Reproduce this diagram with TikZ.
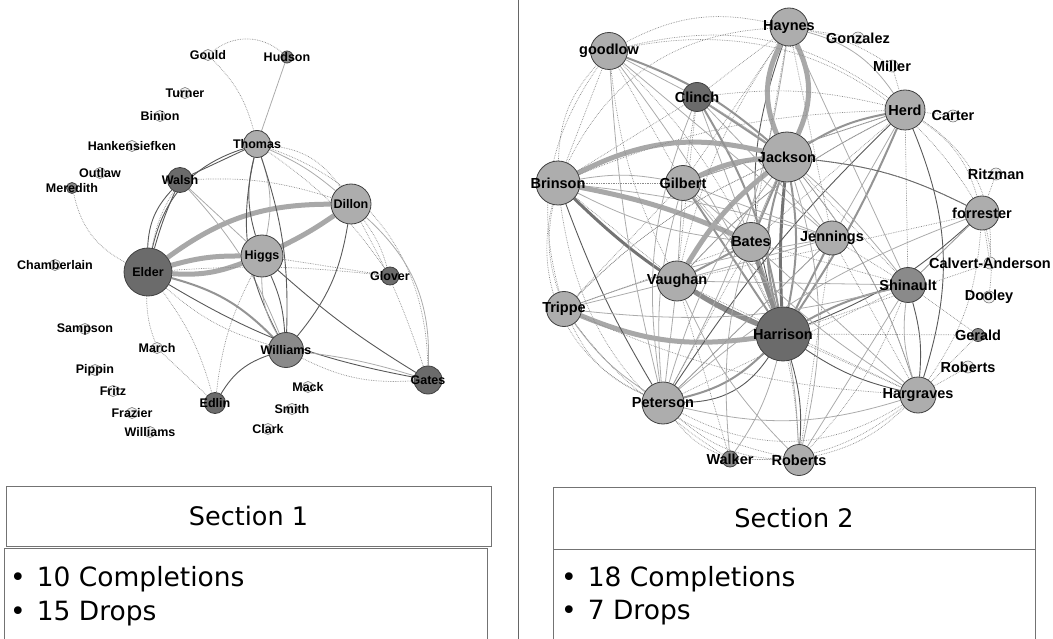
\documentclass[tikz,border=0pt]{standalone}
\usepackage{fontspec}
\setmainfont{DejaVu Sans}
\newfontfamily\labf{Liberation Sans}
\pgfdeclarelayer{bg}
\pgfsetlayers{bg,main}
\tikzset{
  gn/.style={circle, draw=black!75, line width=0.8pt, inner sep=0pt},
  dk/.style={fill=black!58},
  md/.style={fill=black!46},
  lt/.style={fill=black!32},
  wt/.style={fill=black!6, draw=black!60, line width=0.5pt},
  la/.style={font=\labf\bfseries\fontsize{12.5}{14}\selectfont, inner sep=0pt},
  lb/.style={font=\labf\bfseries\fontsize{14.5}{16}\selectfont, inner sep=0pt},
  T/.style={draw=black!34, line width=5pt},
  T3/.style={draw=black!45, line width=5pt},
  HD/.style={draw=black!55, line width=3pt},
  M/.style={draw=black!42, line width=2pt},
  D/.style={draw=black!65, line width=0.9pt},
  L/.style={draw=black!33, line width=0.8pt},
  P/.style={draw=black!45, line width=0.7pt, densely dotted},
  tbox/.style={draw=black!55, line width=0.9pt, inner sep=0pt, font=\fontsize{25.5}{30}\selectfont},
  bul/.style={anchor=base west, inner sep=0pt, font=\fontsize{26.5}{30}\selectfont},
}
\newcommand\gnA[6]{\node[gn,minimum size=#4pt,#5] (#1) at (#2,#3) {}; \node[la] (#1-t) at (#1.center) {#6};}
\newcommand\gnB[6]{\node[gn,minimum size=#4pt,#5] (#1) at (#2,#3) {}; \node[lb] (#1-t) at (#1.center) {#6};}
\begin{document}
\begin{tikzpicture}[x=1pt,y=-1pt]
\useasboundingbox (0,0) rectangle (1053,639);
% ---------------- Section 1 nodes
\gnA{gould}{208}{55}{11}{wt}{Gould}
\gnA{hudson}{287}{57}{12}{md}{Hudson}
\gnA{turner}{185}{93}{11}{wt}{Turner}
\gnA{binion}{160}{116}{11}{wt}{Binion}
\gnA{hank}{132}{146}{11}{wt}{Hankensiefken}
\gnA{outlaw}{100}{173}{11}{wt}{Outlaw}
\gnA{meredith}{72}{188}{11}{md}{Meredith}
\gnA{thomas}{257}{144}{27}{lt}{Thomas}
\gnA{walsh}{180}{180}{25}{dk}{Walsh}
\gnA{dillon}{351}{204}{40}{lt}{Dillon}
\gnA{chamb}{55}{265}{11}{wt}{Chamberlain}
\gnA{elder}{148}{272}{48}{dk}{Elder}
\gnA{higgs}{262}{256}{42}{lt}{Higgs}
\gnA{glover}{390}{276}{18}{dk}{Glover}
\gnA{sampson}{85}{329}{11}{wt}{Sampson}
\gnA{march}{157}{348}{11}{wt}{March}
\gnA{williams}{286}{350}{35}{md}{Williams}
\gnA{pippin}{95}{370}{11}{wt}{Pippin}
\gnA{gates}{428}{380}{28}{dk}{Gates}
\gnA{mack}{308}{387}{11}{wt}{Mack}
\gnA{fritz}{113}{391}{11}{wt}{Fritz}
\gnA{edlin}{215}{403}{21}{dk}{Edlin}
\gnA{smith}{292}{409}{11}{wt}{Smith}
\gnA{frazier}{132}{413}{11}{wt}{Frazier}
\gnA{williamsb}{150}{432}{11}{wt}{Williams}
\gnA{clark}{268}{429}{11}{wt}{Clark}
% ---------------- Section 2 nodes
\gnB{goodlow}{609}{51}{37}{lt}{goodlow}
\gnB{haynes}{789}{27}{38}{lt}{Haynes}
\gnB{gonzalez}{858}{38}{12}{wt}{Gonzalez}
\gnB{miller}{892}{66}{12}{wt}{Miller}
\gnB{clinch}{697}{97}{29}{dk}{Clinch}
\gnB{herd}{905}{110}{40}{lt}{Herd}
\gnB{carter}{953}{116}{12}{wt}{Carter}
\gnB{jackson}{787}{157}{50}{lt}{Jackson}
\gnB{brinson}{558}{183}{44}{lt}{Brinson}
\gnB{gilbert}{683}{183}{35}{lt}{Gilbert}
\gnB{ritzman}{996}{174}{12}{wt}{Ritzman}
\gnB{forrester}{982}{213}{34}{lt}{forrester}
\gnB{bates}{751}{242}{39}{lt}{Bates}
\gnB{jennings}{832}{238}{34}{lt}{Jennings}
\gnB{calvert}{990}{263}{12}{wt}{Calvert-Anderson}
\gnB{vaughan}{677}{281}{40}{lt}{Vaughan}
\gnB{shinault}{908}{285}{35}{md}{Shinault}
\gnB{dooley}{989}{297}{12}{wt}{Dooley}
\gnB{trippe}{564}{309}{35}{lt}{Trippe}
\gnB{harrison}{783}{334}{54}{dk}{Harrison}
\gnB{gerald}{978}{335}{13}{md}{Gerald}
\gnB{robertsr}{968}{367}{12}{wt}{Roberts}
\gnB{hargraves}{918}{395}{36}{lt}{Hargraves}
\gnB{peterson}{663}{403}{42}{lt}{Peterson}
\gnB{walker}{730}{459}{16}{md}{Walker}
\gnB{robertsb}{799}{460}{31}{lt}{Roberts}
% ---------------- edges
\begin{pgfonlayer}{bg}
% section 1
\draw[P] (gould) to[bend left=40] (hudson);
\draw[P] (gould) to[bend left=15] (thomas);
\draw[L] (hudson) -- (thomas);
\draw[P] (meredith) to[bend right=25] (elder);
\draw[T] (elder) to[bend left=18] (dillon);
\draw[T] (elder) to[bend left=8] (higgs);
\draw[T] (elder) to[bend right=12] (higgs);
\draw[T] (higgs) to[bend right=4] (dillon);
\draw[M] (elder) to[bend left=15] (williams);
\draw[D] (elder) to[bend left=20] (walsh);
\draw[D] (elder) to[bend left=4] (walsh);
\draw[D] (elder) to[bend left=30] (thomas);
\draw[D] (walsh) -- (thomas);
\draw[L] (walsh) -- (higgs);
\draw[L] (walsh) to[bend left=10] (williams);
\draw[P] (walsh) to[bend left=10] (dillon);
\draw[D] (thomas) to[bend right=15] (higgs);
\draw[L] (thomas) to[bend left=15] (higgs);
\draw[D] (thomas) to[bend right=20] (williams);
\draw[D] (thomas) to[bend left=10] (williams);
\draw[L] (thomas) to[bend left=8] (dillon);
\draw[P] (thomas) to[bend left=25] (dillon);
\draw[P] (thomas) to[bend left=35] (gates);
\draw[P] (thomas) to[bend left=10] (glover);
\draw[D] (higgs) to[bend left=10] (williams);
\draw[L] (higgs) to[bend right=15] (williams);
\draw[D] (higgs) to[bend right=5] (gates);
\draw[P] (higgs) -- (glover);
\draw[P] (higgs) to[bend right=10] (edlin);
\draw[D] (dillon) to[bend left=15] (williams);
\draw[L] (dillon) to[bend left=25] (gates);
\draw[P] (dillon) to[bend left=10] (glover);
\draw[P] (dillon) to[bend left=5] (gates);
\draw[D] (elder) to[bend right=10] (gates);
\draw[P] (elder) to[bend left=5] (glover);
\draw[P] (williams) to[bend right=15] (gates);
\draw[L] (williams) to[bend left=5] (gates);
\draw[D] (williams) to[bend right=20] (edlin);
\draw[P] (elder) to[bend right=10] (march);
\draw[P] (elder) to[bend left=10] (edlin);
\draw[P] (march) -- (edlin);
\draw[P] (elder) to[bend right=12] (williams);
\draw[P] (walsh) to[bend right=10] (elder);
% section 2 heavy
\draw[HD] (harrison) to[bend left=4] (jackson);
\draw[M] (harrison) to[bend right=10] (jackson);
\draw[M] (harrison) to[bend left=16] (jackson);
\draw[D] (haynes) to[bend right=18] (harrison);
\draw[T] (haynes) to[bend left=25] (jackson);
\draw[T] (haynes) to[bend right=25] (jackson);
\draw[HD] (brinson) to[bend right=10] (harrison);
\draw[T3] (vaughan) to[bend right=5] (harrison);
\draw[T] (trippe) to[bend right=15] (harrison);
\draw[M] (peterson) to[bend right=15] (harrison);
\draw[D] (peterson) to[bend right=28] (harrison);
\draw[T] (brinson) to[bend left=20] (jackson);
\draw[T] (brinson) to[bend left=6] (bates);
\draw[T] (gilbert) to[bend left=10] (jackson);
\draw[M] (gilbert) -- (harrison);
\draw[T3] (bates) -- (harrison);
\draw[M] (jennings) -- (harrison);
\draw[M] (jackson) -- (bates);
\draw[M] (herd) to[bend left=5] (harrison);
\draw[D] (herd) to[bend right=6] (peterson);
\draw[M] (herd) to[bend right=10] (jackson);
\draw[L] (herd) to[bend right=20] (haynes);
\draw[M] (clinch) to[bend left=10] (harrison);
\draw[M] (clinch) -- (jackson);
\draw[M] (goodlow) to[bend left=10] (jackson);
\draw[L] (goodlow) to[bend left=5] (harrison);
\draw[L] (goodlow) -- (clinch);
\draw[M] (shinault) to[bend right=8] (harrison);
\draw[D] (hargraves) to[bend left=10] (harrison);
\draw[D] (robertsb) to[bend right=10] (harrison);
\draw[D] (forrester) to[bend left=10] (harrison);
\draw[D] (forrester) to[bend right=10] (jackson);
\draw[L] (peterson) to[bend left=10] (trippe);
\draw[L] (peterson) -- (vaughan);
\draw[D] (brinson) to[bend right=5] (peterson);
\draw[L] (trippe) -- (vaughan);
\draw[T] (vaughan) to[bend left=10] (jackson);
\draw[M] (vaughan) -- (bates);
\draw[L] (gilbert) -- (bates);
\draw[L] (gilbert) -- (vaughan);
\draw[L] (jennings) -- (jackson);
\draw[L] (jennings) -- (herd);
\draw[D] (shinault) to[bend left=10] (hargraves);
\draw[L] (shinault) to[bend right=12] (hargraves);
\draw[L] (hargraves) to[bend left=15] (peterson);
\draw[D] (herd) to[bend left=20] (hargraves);
\draw[L] (walker) to[bend right=10] (harrison);
\draw[L] (jackson) to[bend right=10] (peterson);
\draw[L] (gilbert) to[bend right=10] (peterson);
\draw[L] (clinch) to[bend right=15] (peterson);
% section 2 light
\draw[L] (brinson) to[bend left=10] (gilbert);
\draw[L] (brinson) to[bend right=10] (bates);
\draw[L] (goodlow) to[bend right=5] (peterson);
\draw[L] (goodlow) -- (jennings);
\draw[L] (clinch) -- (bates);
\draw[L] (clinch) -- (jennings);
\draw[L] (clinch) to[bend left=10] (shinault);
\draw[L] (herd) to[bend right=10] (vaughan);
\draw[L] (herd) -- (gilbert);
\draw[L] (jackson) to[bend right=15] (walker);
\draw[L] (jackson) to[bend left=15] (robertsb);
\draw[L] (bates) to[bend left=10] (robertsb);
\draw[L] (bates) -- (hargraves);
\draw[L] (vaughan) -- (jennings);
\draw[L] (vaughan) to[bend right=10] (robertsb);
\draw[L] (trippe) to[bend right=10] (shinault);
\draw[L] (peterson) -- (jennings);
\draw[L] (peterson) to[bend left=10] (forrester);
\draw[L] (robertsb) -- (shinault);
\draw[L] (gilbert) to[bend right=10] (hargraves);
\draw[L] (gilbert) -- (jennings);
\draw[L] (shinault) -- (forrester);
\draw[L] (shinault) -- (vaughan);
\draw[L] (hargraves) to[bend right=10] (jackson);
\draw[L] (brinson) to[bend left=5] (jennings);
\draw[L] (trippe) to[bend left=5] (jennings);
\draw[L] (haynes) to[bend left=10] (peterson);
\draw[L] (haynes) -- (shinault);
% section 2 dotted
\draw[P] (goodlow) to[bend left=20] (haynes);
\draw[P] (goodlow) to[bend left=25] (herd);
\draw[P] (brinson) to[bend left=20] (goodlow);
\draw[P] (brinson) to[bend left=30] (haynes);
\draw[P] (trippe) to[bend left=25] (goodlow);
\draw[P] (brinson) to[bend right=15] (trippe);
\draw[P] (trippe) to[bend right=20] (peterson);
\draw[P] (brinson) to[bend right=40] (peterson);
\draw[P] (peterson) to[bend right=15] (walker);
\draw[P] (walker) to[bend right=20] (hargraves);
\draw[P] (walker) -- (robertsb);
\draw[P] (peterson) to[bend right=20] (robertsb);
\draw[P] (robertsb) to[bend right=15] (hargraves);
\draw[P] (hargraves) to[bend right=15] (forrester);
\draw[P] (forrester) to[bend right=20] (herd);
\draw[P] (haynes) -- (gonzalez);
\draw[P] (haynes) to[bend left=10] (miller);
\draw[P] (miller) -- (herd);
\draw[P] (herd) -- (carter);
\draw[P] (forrester) -- (ritzman);
\draw[P] (forrester) -- (calvert);
\draw[P] (forrester) to[bend left=10] (dooley);
\draw[P] (hargraves) -- (robertsr);
\draw[P] (hargraves) -- (gerald);
\draw[P] (shinault) -- (gerald);
\draw[P] (herd) to[bend left=30] (calvert);
\draw[P] (jackson) to[bend left=10] (forrester);
\draw[P] (jackson) -- (shinault);
\draw[P] (jackson) to[bend left=10] (hargraves);
\draw[P] (jackson) to[bend right=10] (trippe);
\draw[P] (clinch) -- (brinson);
\draw[P] (clinch) -- (gilbert);
\draw[P] (clinch) -- (vaughan);
\draw[P] (clinch) to[bend left=10] (herd);
\draw[P] (haynes) -- (clinch);
\draw[P] (haynes) -- (gilbert);
\draw[P] (haynes) to[bend right=10] (vaughan);
\draw[P] (goodlow) -- (gilbert);
\draw[P] (goodlow) -- (brinson);
\draw[P] (goodlow) to[bend right=10] (vaughan);
\draw[P] (goodlow) to[bend left=8] (bates);
\draw[P] (gilbert) -- (trippe);
\draw[P] (bates) -- (peterson);
\draw[P] (bates) -- (herd);
\draw[P] (bates) -- (shinault);
\draw[P] (jennings) -- (shinault);
\draw[P] (jennings) -- (peterson);
\draw[P] (jennings) -- (hargraves);
\draw[P] (harrison) -- (calvert);
\draw[P] (harrison) -- (gerald);
\draw[P] (brinson) to[bend left=10] (herd);
\draw[P] (trippe) to[bend left=10] (jackson);
\draw[P] (trippe) -- (bates);
\draw[P] (vaughan) -- (hargraves);
\draw[P] (vaughan) to[bend left=10] (herd);
\draw[P] (gilbert) -- (herd);
\draw[P] (brinson) -- (vaughan);
\draw[P] (brinson) -- (gilbert);
\draw[P] (peterson) -- (shinault);
\draw[P] (robertsb) to[bend right=10] (shinault);
\draw[P] (robertsb) -- (jennings);
\draw[P] (walker) -- (vaughan);
\draw[P] (haynes) -- (jennings);
\draw[P] (haynes) -- (bates);
\draw[P] (herd) -- (shinault);
\draw[P] (forrester) -- (shinault);
\draw[P] (forrester) -- (vaughan);
\draw[P] (harrison) -- (hargraves);
\draw[P] (trippe) to[bend right=10] (hargraves);
\draw[P] (trippe) to[bend right=20] (robertsb);
\draw[P] (brinson) to[bend right=25] (walker);
\draw[P] (goodlow) to[bend left=35] (forrester);
\draw[P] (peterson) to[bend right=30] (hargraves);
\draw[P] (gilbert) to[bend left=20] (robertsb);
\end{pgfonlayer}
% ---------------- divider and boxes
\draw[black!60, line width=1pt] (518,0) -- (518,639);
\node[tbox, minimum width=485pt, minimum height=60pt] (s1) at (248.5,516) {Section 1};
\node[tbox, minimum width=482pt, minimum height=62pt] (s2) at (794,518) {Section 2};
\draw[black!55, line width=0.9pt] (4,640) |- (487,548) -- (487,640);
\draw[black!55, line width=0.9pt] (553,640) |- (1035,549) -- (1035,640);
\node[bul] (b1) at (10,586) {•\hspace{11pt}10 Completions};
\node[bul] (b2) at (10,620) {•\hspace{11pt}15 Drops};
\node[bul] (b3) at (561,586) {•\hspace{11pt}18 Completions};
\node[bul] (b4) at (561,619) {•\hspace{11pt}7 Drops};
\end{tikzpicture}
\end{document}
